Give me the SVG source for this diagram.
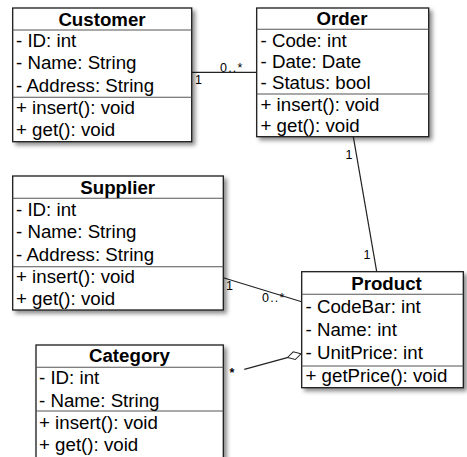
<svg xmlns="http://www.w3.org/2000/svg" width="467" height="457" viewBox="0 0 467 457">
  <defs>
    <filter id="shadow" x="-10%" y="-10%" width="125%" height="125%">
      <feDropShadow dx="3" dy="3" stdDeviation="2" flood-color="#000" flood-opacity="0.45"/>
    </filter>
    <marker id="aggregation" viewBox="0 0 16 10" refX="15" refY="5" markerWidth="16" markerHeight="10" markerUnits="userSpaceOnUse" orient="auto">
      <path d="M1,5 L8,1 L15,5 L8,9 Z" fill="#fff" stroke="#222" stroke-width="1"/>
    </marker>
    <style>
      .box { fill: #fff; stroke: #1a1a1a; stroke-width: 1.3; filter: url(#shadow); }
      .sep { stroke: #555; stroke-width: 1.1; }
      .title { font-family: "Liberation Sans", Arial, sans-serif; font-size: 18.7px; font-weight: bold; text-anchor: middle; fill: #000; }
      .row { font-family: "Liberation Sans", Arial, sans-serif; font-size: 18.7px; fill: #000; }
      .edge { stroke: #222; stroke-width: 1.2; fill: none; }
      .mult { font-family: "Liberation Sans", Arial, sans-serif; font-size: 12.5px; fill: #000; }
    </style>
  </defs>

  <!-- associations -->
  <g id="connectors">
    <line class="edge" x1="191.7" y1="72.3" x2="256.7" y2="72.3"/>
    <text class="mult" x="195" y="83.5">1</text>
    <text class="mult" x="220" y="72" letter-spacing="1.2">0..*</text>

    <line class="edge" x1="353.3" y1="136.7" x2="376.7" y2="271.7"/>
    <text class="mult" x="345.5" y="159">1</text>
    <text class="mult" x="363.5" y="258.5">1</text>

    <line class="edge" x1="223.3" y1="277.7" x2="301.7" y2="301.7"/>
    <text class="mult" x="226" y="289.5">1</text>
    <text class="mult" x="262" y="302" letter-spacing="1.2">0..*</text>

    <line class="edge" x1="244.3" y1="369.3" x2="301" y2="353.8" marker-end="url(#aggregation)"/>
    <text class="mult" x="229.5" y="377" font-size="14" font-weight="bold">*</text>
  </g>

  <g id="customer">
    <rect class="box" x="12.7" y="8" width="179" height="133.7"/>
    <line class="sep" x1="12.7" y1="30" x2="191.7" y2="30"/>
    <line class="sep" x1="12.7" y1="97.3" x2="191.7" y2="97.3"/>
    <text class="title" x="102" y="26">Customer</text>
    <text class="row" x="16" y="47">- ID: int</text>
    <text class="row" x="16" y="69.3">- Name: String</text>
    <text class="row" x="16" y="91.6">- Address: String</text>
    <text class="row" x="16" y="114.2">+ insert(): void</text>
    <text class="row" x="16" y="136.3">+ get(): void</text>
  </g>

  <g id="order">
    <rect class="box" x="256.7" y="8" width="172" height="128.7"/>
    <line class="sep" x1="256.7" y1="29.3" x2="428.7" y2="29.3"/>
    <line class="sep" x1="256.7" y1="94" x2="428.7" y2="94"/>
    <text class="title" x="342" y="25">Order</text>
    <text class="row" x="260.5" y="46.7">- Code: int</text>
    <text class="row" x="260.5" y="67.9">- Date: Date</text>
    <text class="row" x="260.5" y="89.3">- Status: bool</text>
    <text class="row" x="260.5" y="110.9">+ insert(): void</text>
    <text class="row" x="260.5" y="131.7">+ get(): void</text>
  </g>

  <g id="supplier">
    <rect class="box" x="12.7" y="176" width="210.6" height="134"/>
    <line class="sep" x1="12.7" y1="198.3" x2="223.3" y2="198.3"/>
    <line class="sep" x1="12.7" y1="266.7" x2="223.3" y2="266.7"/>
    <text class="title" x="117.7" y="193.5">Supplier</text>
    <text class="row" x="16" y="215.7">- ID: int</text>
    <text class="row" x="16" y="237.9">- Name: String</text>
    <text class="row" x="16" y="260.5">- Address: String</text>
    <text class="row" x="16" y="282.8">+ insert(): void</text>
    <text class="row" x="16" y="305">+ get(): void</text>
  </g>

  <g id="product">
    <rect class="box" x="301.7" y="271.7" width="161.6" height="116"/>
    <line class="sep" x1="301.7" y1="294.3" x2="463.3" y2="294.3"/>
    <line class="sep" x1="301.7" y1="366" x2="463.3" y2="366"/>
    <text class="title" x="386.5" y="289.5">Product</text>
    <text class="row" x="305.5" y="313.3">- CodeBar: int</text>
    <text class="row" x="305.5" y="336">- Name: int</text>
    <text class="row" x="305.5" y="359.3">- UnitPrice: int</text>
    <text class="row" x="305.5" y="381.7">+ getPrice(): void</text>
  </g>

  <g id="category">
    <rect class="box" x="36" y="345" width="187.3" height="130"/>
    <line class="sep" x1="36" y1="367.3" x2="223.3" y2="367.3"/>
    <line class="sep" x1="36" y1="411" x2="223.3" y2="411"/>
    <text class="title" x="129.5" y="361.8">Category</text>
    <text class="row" x="39" y="384">- ID: int</text>
    <text class="row" x="39" y="406.5">- Name: String</text>
    <text class="row" x="39" y="428.5">+ insert(): void</text>
    <text class="row" x="39" y="451">+ get(): void</text>
  </g>
</svg>
